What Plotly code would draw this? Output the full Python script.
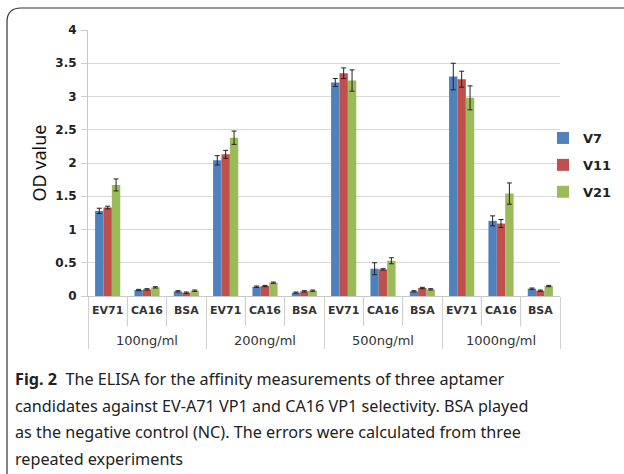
import plotly.graph_objects as go

groups = ["100ng/ml", "200ng/ml", "500ng/ml", "1000ng/ml"]
samples = ["EV71", "CA16", "BSA"]
series = ["V7", "V11", "V21"]
colors = ["#4F81BD", "#C0504D", "#9BBB59"]

v7 = [1.28, 0.09, 0.07, 2.04, 0.14, 0.05, 3.21, 0.41, 0.07, 3.30, 1.13, 0.11]
v11 = [1.33, 0.10, 0.05, 2.13, 0.15, 0.07, 3.35, 0.40, 0.12, 3.26, 1.09, 0.08]
v21 = [1.67, 0.13, 0.08, 2.38, 0.20, 0.08, 3.24, 0.53, 0.10, 2.98, 1.54, 0.15]
e7 = [0.04, 0.01, 0.01, 0.07, 0.01, 0.01, 0.06, 0.09, 0.01, 0.20, 0.075, 0.01]
e11 = [0.02, 0.01, 0.01, 0.06, 0.01, 0.01, 0.08, 0.01, 0.01, 0.12, 0.06, 0.01]
e21 = [0.09, 0.01, 0.01, 0.10, 0.01, 0.01, 0.16, 0.045, 0.01, 0.18, 0.16, 0.01]

yticks = [0, 0.5, 1, 1.5, 2, 2.5, 3, 3.5, 4]
ytick_text = ["0", "0.5", "1", "1.5", "2", "2.5", "3", "3.5", "4"]

caption = [
    "<b>Fig. 2</b>  The ELISA for the affinity measurements of three aptamer",
    "candidates against EV-A71 VP1 and CA16 VP1 selectivity. BSA played",
    "as the negative control (NC). The errors were calculated from three",
    "repeated experiments",
]

xg = [f"<span style='font-size:13px'>{g}</span>" for g in groups for _ in samples]
xs = [f"<span style='font-size:11px'><b>{s}</b></span><br>&nbsp;<br>&nbsp;"
      for _ in groups for s in samples]

fig = go.Figure()
for name, vals, errs, col in zip(series, [v7, v11, v21], [e7, e11, e21], colors):
    fig.add_trace(go.Bar(
        x=[xg, xs], y=vals, name=f"<b>{name}</b>", legendgroup=name,
        marker=dict(color=col, line=dict(width=0)),
        error_y=dict(type="data", array=errs, visible=True, color="#222222",
                     thickness=1, width=2.5),
    ))

# Plot area geometry in pixels
L, R, T, B = 88, 560, 30, 296
W, H = R - L, B - T

def px(x):
    return (x - L) / W

def py(y):
    return (B - y) / H

fig.update_layout(
    width=624, height=474,
    margin=dict(l=L, r=624 - R, t=T, b=474 - B, autoexpand=False),
    paper_bgcolor="white", plot_bgcolor="white",
    barmode="group", bargap=0.36, bargroupgap=0,
    font=dict(family="Noto Sans", color="#222222"),
    showlegend=True,
    legend=dict(x=px(543), y=py(123), xanchor="left", yanchor="top",
                font=dict(size=13, family="DejaVu Sans", color="#222222"),
                tracegroupgap=7, itemwidth=30, bgcolor="rgba(0,0,0,0)"),
    xaxis=dict(
        type="multicategory", showgrid=False, zeroline=False,
        showline=True, linecolor="#c8c8c8", linewidth=1,
        ticks="outside", tickson="boundaries", ticklen=29, tickcolor="#d0d0d0",
        showdividers=True, dividercolor="#d0d0d0", dividerwidth=1,
        tickangle=0, automargin=False, ticklabelstandoff=6,
        tickfont=dict(size=9, family="DejaVu Sans", color="#333333"),
    ),
    yaxis=dict(
        range=[0, 4], tickvals=yticks, ticktext=[f"<b>{t}</b>" for t in ytick_text],
        showgrid=True, gridcolor="#d9d9d9", gridwidth=1,
        showline=True, linecolor="#c8c8c8", linewidth=1,
        zeroline=False, ticks="outside", ticklen=6, tickcolor="#d0d0d0",
        ticklabelstandoff=2,
        tickfont=dict(size=12, family="DejaVu Sans", color="#222222"),
        title=dict(text="OD value", font=dict(size=18, family="Noto Sans", color="#111111"),
                   standoff=4),
    ),
)

# Inner category separators below the axis (between samples within a group)
n = len(groups) * len(samples)
for k in range(1, n):
    if k % len(samples) == 0:
        continue
    xk = k / n
    fig.add_shape(type="line", xref="paper", yref="paper", x0=xk, x1=xk,
                  y0=0, y1=py(325), line=dict(color="#d0d0d0", width=1))

# Rounded border frame
r = 14
path = (f"M {px(7)},{py(480)} L {px(7)},{py(8 + r)} Q {px(7)},{py(8)} {px(7 + r)},{py(8)} "
        f"L {px(640)},{py(8)}")
fig.add_shape(type="path", path=path, xref="paper", yref="paper",
              line=dict(color="#333333", width=1.2))

for i, line in enumerate(caption):
    fig.add_annotation(text=line, x=px(13), y=py(379 + 26.5 * i), xref="paper", yref="paper",
                       xanchor="left", yanchor="middle", showarrow=False,
                       font=dict(size=16.2, family="Noto Sans", color="#222222"))

fig.write_html("out.html", config={"displayModeBar": False},
               post_script="document.body.style.margin='0';")
